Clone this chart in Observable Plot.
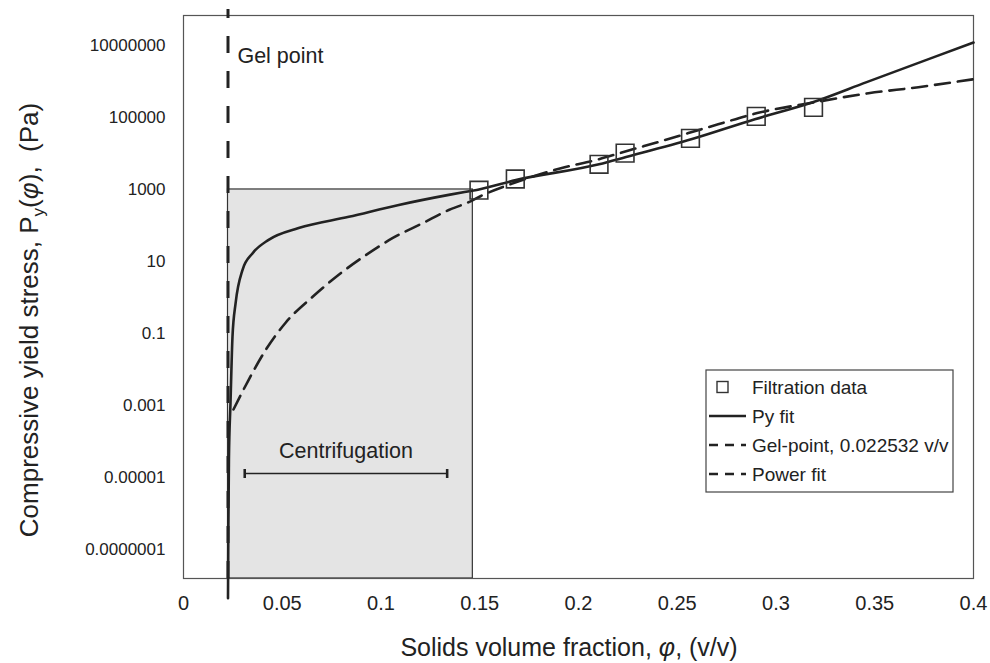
<!DOCTYPE html>
<html><head><meta charset="utf-8">
<script src="https://cdn.jsdelivr.net/npm/d3@7"></script>
<script src="https://cdn.jsdelivr.net/npm/@observablehq/plot@0.6"></script>
<style>
body{margin:0;background:#fff;}
#chart{position:relative;width:990px;height:663px;}
</style></head><body><div id="chart"></div>
<script>
// ---- data ----
const gelPoint = 0.022532;
const filtrationPhi = [0.1496, 0.168, 0.2104, 0.2236, 0.2567, 0.2900, 0.3190];
const filtrationPy  = [955, 1950, 5000, 10200, 26300, 107000, 191000];

const pyFitPhi = [0.022532, 0.0227, 0.0230, 0.0238, 0.0248, 0.0264, 0.0299, 0.0350, 0.0431, 0.0583, 0.0837, 0.1090, 0.1343, 0.1455, 0.1496, 0.1683, 0.2104, 0.2241, 0.2575, 0.2893, 0.3186, 0.3459, 0.3793, 0.4];
const pyFitPy  = [4.5e-9, 3.2e-7, 3.2e-5, 1.2e-3, 0.081, 0.71, 5.9, 17, 40, 85, 174, 372, 708, 912, 1000, 1820, 5010, 7940, 25100, 89100, 263000, 955000, 4.57e6, 1.2e7];

const powerPhi = [0.0253, 0.0330, 0.0416, 0.0517, 0.0654, 0.0786, 0.0923, 0.1060, 0.1212, 0.1343, 0.1445, 0.1506, 0.1683, 0.1911, 0.2104, 0.2241, 0.2418, 0.2707, 0.2905, 0.3194, 0.3468, 0.3721, 0.4];
const powerPy  = [7.8e-4, 5.2e-3, 0.035, 0.2, 1.05, 4.3, 15, 45, 117, 269, 447, 661, 1580, 3890, 6920, 11500, 21900, 64600, 132000, 263000, 468000, 692000, 1.15e6];

const centrifugationPhi = [0.031, 0.1335];     // arrow extent
const centrifugationPy = 1.3e-5;               // arrow level
const centrifugationLabelPy = 5.4e-5;
const boxPhi = [gelPoint, 0.1465];
const boxTopPy = 1000;
const gelLabelPhi = 0.0273, gelLabelPy = 5e6;

const xTickValues = [0, 0.05, 0.1, 0.15, 0.2, 0.25, 0.3, 0.35, 0.4];
const xTickLabels = ["0", "0.05", "0.1", "0.15", "0.2", "0.25", "0.3", "0.35", "0.4"];
const yTickValues = [1e-7, 1e-5, 1e-3, 1e-1, 10, 1e3, 1e5, 1e7];
const yTickLabels = ["0.0000001", "0.00001", "0.001", "0.1", "10", "1000", "100000", "10000000"];
const legendNames = ["Filtration data", "Py fit", "Gel-point, 0.022532 v/v", "Power fit"];

// ---- build tables ----
const filtration = filtrationPhi.map((p, i) => ({phi: p, py: filtrationPy[i]}));
const pyFit = pyFitPhi.map((p, i) => ({phi: p, py: pyFitPy[i]}));
const power = powerPhi.map((p, i) => ({phi: p, py: powerPy[i]}));
const yMin = Math.pow(10, -7.8), yMax = Math.pow(10, 7.83);

const FONT = "'Liberation Sans', Arial, Helvetica, sans-serif";
const INK = "#222";

const chart = Plot.plot({
  width: 990, height: 663,
  marginLeft: 183, marginRight: 17, marginTop: 15, marginBottom: 85,
  x: {domain: [0, 0.4]},
  y: {type: "log", domain: [yMin, yMax]},
  style: {fontFamily: FONT, background: "#fff", color: INK},
  marks: [
    Plot.rect([0], {x1: boxPhi[0], x2: boxPhi[1], y1: yMin, y2: boxTopPy, fill: "#e4e4e4", stroke: "#333", strokeWidth: 1.2}),
    Plot.frame({stroke: "#555", strokeWidth: 1.2}),
    Plot.ruleX([gelPoint], {y1: yMin, y2: 1e8, stroke: INK, strokeWidth: 3, strokeDasharray: "17,18", clip: false}),
    Plot.line(power, {x: "phi", y: "py", stroke: INK, strokeWidth: 2.6, strokeDasharray: "15,8", curve: "monotone-x"}),
    Plot.line(pyFit, {x: "phi", y: "py", stroke: INK, strokeWidth: 2.6, curve: "monotone-x"}),
    Plot.dot(filtration, {x: "phi", y: "py", symbol: "square", r: 10, stroke: "#333", strokeWidth: 1.6, fill: "none"}),
    Plot.link([0], {x1: centrifugationPhi[0], x2: centrifugationPhi[1], y1: centrifugationPy, y2: centrifugationPy, stroke: INK, strokeWidth: 1.6, markerStart: "tick", markerEnd: "tick"}),
    Plot.text(["Centrifugation"], {x: (centrifugationPhi[0] + centrifugationPhi[1]) / 2, y: centrifugationLabelPy, fontSize: 21.5, fill: INK}),
    Plot.text(["Gel point"], {x: gelLabelPhi, y: gelLabelPy, textAnchor: "start", fontSize: 21.5, fill: INK}),
    Plot.axisY({ticks: yTickValues, tickFormat: d => yTickLabels[yTickValues.indexOf(d)], tickSize: 0, tickPadding: 18, fontSize: 17, label: null}),
    Plot.axisX({ticks: xTickValues, tickFormat: d => xTickLabels[xTickValues.indexOf(d)], tickSize: 0, tickPadding: 17, fontSize: 20, label: null})
  ]
});
document.getElementById("chart").appendChild(chart);

// ---- titles with sub/italic parts, and legend ----
const svg = d3.select(chart);
const yt = svg.append("text")
  .attr("transform", "translate(38,320) rotate(-90)")
  .attr("text-anchor", "middle").attr("font-size", 26).attr("fill", INK).attr("font-family", FONT);
yt.append("tspan").text("Compressive yield stress, P");
yt.append("tspan").attr("font-size", 17).attr("dy", 6).text("y");
yt.append("tspan").attr("dy", -6).text("(");
yt.append("tspan").attr("font-style", "italic").text("\u03C6");
yt.append("tspan").text("),  (Pa)");

const xt = svg.append("text")
  .attr("transform", "translate(569,656)")
  .attr("text-anchor", "middle").attr("font-size", 25).attr("fill", INK).attr("font-family", FONT);
xt.append("tspan").text("Solids volume fraction, ");
xt.append("tspan").attr("font-style", "italic").text("\u03C6");
xt.append("tspan").text(", (v/v)");

const lg = svg.append("g").attr("transform", "translate(706,370)");
lg.append("rect").attr("width", 247).attr("height", 122).attr("fill", "#fff").attr("stroke", "#444").attr("stroke-width", 1.2);
const dashes = [null, null, "9,7", "9,7"];
legendNames.forEach((name, i) => {
  const cy = 17 + i * 29;
  if (i === 0) {
    lg.append("rect").attr("x", 11).attr("y", cy - 5.5).attr("width", 11).attr("height", 11)
      .attr("fill", "none").attr("stroke", "#333").attr("stroke-width", 1.4);
  } else {
    lg.append("line").attr("x1", 3).attr("x2", 40).attr("y1", cy).attr("y2", cy)
      .attr("stroke", INK).attr("stroke-width", 2.4).attr("stroke-dasharray", dashes[i]);
  }
  lg.append("text").attr("x", 46).attr("y", cy).attr("dy", "0.35em").attr("text-anchor", "start")
    .attr("font-size", 19).attr("fill", INK).attr("font-family", FONT).text(name);
});
</script>
</body></html>
